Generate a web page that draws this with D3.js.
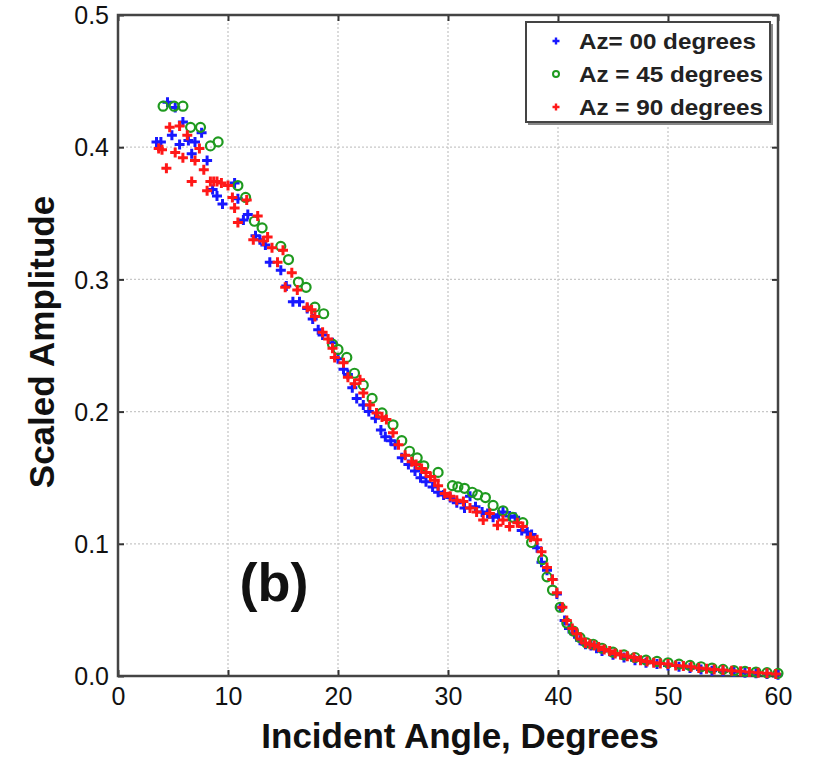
<!DOCTYPE html>
<html><head><meta charset="utf-8">
<script src="https://cdn.jsdelivr.net/npm/d3@7"></script>
<style>body{margin:0;background:#fff}svg{display:block;font-family:Arial,"Liberation Sans",sans-serif}</style>
</head><body><svg id="c" width="813" height="757"></svg>
<script>
const xTicks=[0,10,20,30,40,50,60];
const yTicks=[0,0.1,0.2,0.3,0.4,0.5];
const yTickLabels=["0.0","0.1","0.2","0.3","0.4","0.5"];
const seriesNames=["Az= 00 degrees","Az = 45 degrees","Az = 90 degrees"];
const az00X=[3.5,3.9,4.5,4.9,5.2,5.6,5.9,6.4,6.7,7.0,7.6,8.1,8.6,9.0,9.5,10.6,10.9,11.4,11.8,12.5,12.9,13.4,13.8,14.8,15.3,15.9,16.5,17.2,17.7,18.2,18.6,19.5,20.0,20.5,20.9,21.3,21.7,22.3,22.8,23.4,23.9,24.3,24.8,25.2,25.8,26.4,27.0,27.5,28.0,28.6,29.1,29.6,30.2,30.8,31.5,32.0,32.5,33.1,33.6,34.1,34.6,35.0,35.6,36.1,36.7,37.2,37.6,38.1,38.5,39.0,39.5,39.9,40.2,40.6,41.0,41.5,42.0,42.5,43.0,43.5,44.0,45.0,46.0,47.0,48.0,49.0,50.0,51.0,52.0,53.0,54.0,55.0,56.0,57.0,58.0,59.0,60.0];
const az00Y=[0.404,0.404,0.434,0.409,0.430,0.402,0.419,0.405,0.395,0.404,0.411,0.390,0.368,0.363,0.357,0.373,0.361,0.345,0.349,0.333,0.330,0.326,0.313,0.307,0.295,0.283,0.283,0.278,0.270,0.262,0.258,0.252,0.240,0.232,0.228,0.218,0.210,0.205,0.200,0.195,0.186,0.181,0.178,0.175,0.165,0.160,0.155,0.150,0.147,0.143,0.139,0.137,0.135,0.131,0.127,0.136,0.128,0.124,0.123,0.120,0.122,0.124,0.121,0.120,0.110,0.109,0.107,0.097,0.086,0.080,0.073,0.062,0.052,0.042,0.036,0.032,0.027,0.024,0.023,0.021,0.019,0.016,0.014,0.012,0.010,0.009,0.008,0.007,0.006,0.005,0.004,0.0035,0.003,0.0025,0.002,0.0015,0.001];
const az45X=[4.1,5.1,5.9,6.6,7.5,8.4,9.1,10.9,11.6,12.4,13.1,14.8,15.5,16.4,17.1,17.9,18.7,19.5,20.0,20.8,21.5,22.3,23.1,24.0,25.0,25.8,26.5,27.2,27.8,29.1,30.4,30.9,31.5,32.2,32.7,33.4,34.1,35.0,35.9,36.8,37.6,38.6,39.0,39.5,40.2,40.8,41.4,42.0,42.6,43.2,44.0,45.0,46.0,47.0,48.0,49.0,50.0,51.0,52.0,53.0,54.0,55.0,56.0,57.0,58.0,59.0,60.0];
const az45Y=[0.431,0.431,0.431,0.415,0.415,0.401,0.404,0.371,0.362,0.344,0.339,0.325,0.315,0.298,0.294,0.279,0.274,0.251,0.247,0.241,0.229,0.220,0.210,0.199,0.190,0.178,0.170,0.165,0.159,0.154,0.144,0.143,0.142,0.139,0.137,0.135,0.129,0.125,0.120,0.116,0.101,0.088,0.075,0.065,0.052,0.040,0.034,0.029,0.025,0.024,0.021,0.018,0.016,0.014,0.012,0.011,0.010,0.009,0.008,0.007,0.006,0.005,0.004,0.0035,0.003,0.0025,0.002];
const az90X=[3.7,4.0,4.4,4.7,5.2,5.6,5.9,6.3,6.7,7.0,7.4,7.8,8.1,8.4,8.7,9.0,9.4,10.0,10.4,10.6,10.9,11.7,12.3,12.7,13.2,13.6,14.0,14.5,15.0,15.2,15.8,16.3,17.2,17.6,17.9,18.6,19.1,19.5,19.7,20.5,20.9,21.5,22.0,22.3,22.9,23.5,24.0,24.4,25.0,25.5,26.1,26.7,27.1,27.6,28.0,28.4,28.8,29.1,29.7,30.2,30.8,31.4,32.0,32.6,33.2,33.8,34.5,35.0,35.6,36.3,36.8,37.5,38.1,38.5,39.0,39.5,39.9,40.4,40.8,41.3,41.7,42.1,42.5,42.9,43.3,43.7,44.2,44.7,45.2,45.7,46.3,46.9,47.5,48.1,48.7,49.3,50.0,50.7,51.4,52.1,52.8,53.5,54.2,55.0,55.8,56.6,57.4,58.2,59.0,59.8];
const az90Y=[0.399,0.398,0.384,0.415,0.396,0.416,0.392,0.409,0.374,0.390,0.399,0.383,0.367,0.374,0.374,0.374,0.373,0.371,0.362,0.354,0.343,0.360,0.330,0.348,0.329,0.332,0.324,0.313,0.322,0.294,0.305,0.292,0.279,0.277,0.272,0.260,0.255,0.248,0.241,0.237,0.226,0.221,0.224,0.214,0.205,0.199,0.196,0.194,0.184,0.175,0.167,0.162,0.160,0.157,0.154,0.151,0.148,0.144,0.138,0.136,0.133,0.132,0.127,0.124,0.118,0.123,0.114,0.118,0.113,0.116,0.113,0.105,0.103,0.094,0.082,0.073,0.063,0.052,0.042,0.036,0.032,0.028,0.025,0.024,0.023,0.022,0.020,0.019,0.017,0.016,0.015,0.014,0.012,0.011,0.010,0.0095,0.009,0.008,0.0075,0.007,0.006,0.0055,0.005,0.0045,0.004,0.0035,0.003,0.0025,0.002,0.0015];

const svg=d3.select("#c");
const L=118,T=15,R=778,B=676;
const x=d3.scaleLinear().domain([0,60]).range([L,R]);
const y=d3.scaleLinear().domain([0,0.5]).range([B,T]);

// grid
const g=svg.append("g");
g.selectAll(".gx").data(xTicks.slice(1,-1)).join("line")
 .attr("x1",d=>x(d)).attr("x2",d=>x(d)).attr("y1",T).attr("y2",B)
 .attr("stroke","#c8c8c8").attr("stroke-width",1.3).attr("stroke-dasharray","2,2");
g.selectAll(".gy").data(yTicks.slice(1,-1)).join("line")
 .attr("y1",d=>y(d)).attr("y2",d=>y(d)).attr("x1",L).attr("x2",R)
 .attr("stroke","#c8c8c8").attr("stroke-width",1.3).attr("stroke-dasharray","2,2");

// axes
const xAx=svg.append("g").attr("transform",`translate(0,${B})`)
 .call(d3.axisBottom(x).tickValues(xTicks).tickSize(-6).tickPadding(11).tickFormat(d3.format("d")));
const yAx=svg.append("g").attr("transform",`translate(${L},0)`)
 .call(d3.axisLeft(y).tickValues(yTicks).tickSize(-6).tickPadding(9).tickFormat((d,i)=>yTickLabels[i]));
const xTop=svg.append("g").attr("transform",`translate(0,${T})`)
 .call(d3.axisTop(x).tickValues(xTicks).tickSize(-6).tickFormat(""));
const yRight=svg.append("g").attr("transform",`translate(${R},0)`)
 .call(d3.axisRight(y).tickValues(yTicks).tickSize(-6).tickFormat(""));
[xAx,yAx,xTop,yRight].forEach(a=>{
 a.select(".domain").remove();
 a.selectAll(".tick line").attr("stroke","#333").attr("stroke-width",2);
 a.selectAll("text").attr("fill","#111").style("font-size","25px").style("font-family","Arial, 'Liberation Sans', sans-serif");
});
xAx.selectAll("text").attr("dy","0.71em");
yAx.selectAll("text").attr("dy","0.35em");
svg.append("rect").attr("x",L).attr("y",T).attr("width",R-L).attr("height",B-T)
 .attr("fill","none").attr("stroke","#444").attr("stroke-width",2.5);

const plot=svg.append("g");
function plus(sel,color){
 sel.append("path").attr("d","M-5,0H5M0,-5V5").attr("stroke",color).attr("stroke-width",3).attr("fill","none");
}
const s0=az00X.map((v,i)=>[v,az00Y[i]]);
const s1=az45X.map((v,i)=>[v,az45Y[i]]);
const s2=az90X.map((v,i)=>[v,az90Y[i]]);
plot.selectAll(".b").data(s0).join("g").attr("transform",d=>`translate(${x(d[0])},${y(d[1])})`).each(function(){plus(d3.select(this),"#1818ff");});
plot.selectAll(".g").data(s1).join("circle").attr("cx",d=>x(d[0])).attr("cy",d=>y(d[1])).attr("r",4.5)
 .attr("fill","none").attr("stroke","#1f9a1f").attr("stroke-width",2.2);
plot.selectAll(".r").data(s2).join("g").attr("transform",d=>`translate(${x(d[0])},${y(d[1])})`).each(function(){plus(d3.select(this),"#ff1818");});

// legend
const lg=svg.append("g");
lg.append("rect").attr("x",528).attr("y",24).attr("width",245).attr("height",101).attr("fill","#888");
lg.append("rect").attr("x",526).attr("y",22).attr("width",244).attr("height",100).attr("fill","#fff").attr("stroke","#444").attr("stroke-width",2);
const ly=[41,74,107];
const lc=["#1818ff","#1f9a1f","#ff1818"];
seriesNames.forEach((n,i)=>{
 const gg=lg.append("g").attr("transform",`translate(556,${ly[i]})`);
 if(i===1) gg.append("circle").attr("r",3).attr("fill","none").attr("stroke",lc[i]).attr("stroke-width",2);
 else gg.append("path").attr("d","M-3.5,0H3.5M0,-3.5V3.5").attr("stroke",lc[i]).attr("stroke-width",2.4);
 lg.append("text").attr("x",579).attr("y",ly[i]).attr("dy","0.35em").text(n)
  .style("font-size","22px").style("font-weight","bold").attr("fill","#222")
  .attr("textLength",i===0?177:184).attr("lengthAdjust","spacingAndGlyphs");
});

// labels
svg.append("text").attr("x",460).attr("y",748).attr("text-anchor","middle")
 .style("font-size","35px").style("font-weight","bold").attr("fill","#111").text("Incident Angle, Degrees");
svg.append("text").attr("transform","translate(54,342) rotate(-90)").attr("text-anchor","middle")
 .style("font-size","35px").style("font-weight","bold").attr("fill","#111").text("Scaled Amplitude");
svg.append("text").attr("x",274).attr("y",601).attr("text-anchor","middle")
 .style("font-size","54px").style("font-weight","bold").attr("fill","#111").text("(b)");
</script></body></html>
